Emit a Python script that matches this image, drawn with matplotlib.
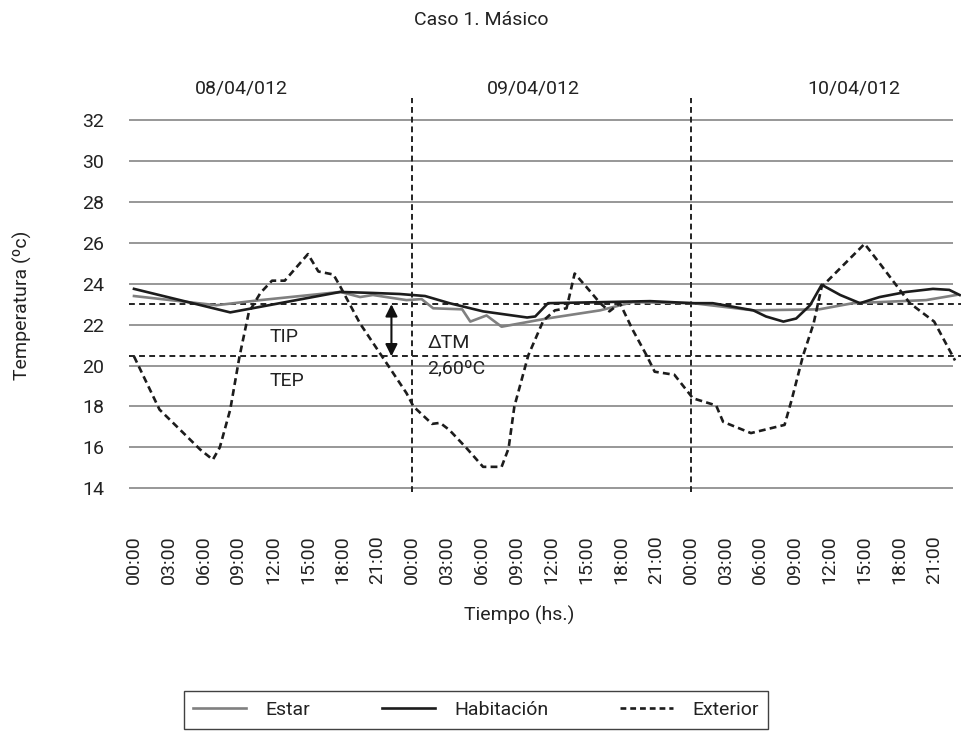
import matplotlib
matplotlib.use('Agg')
import matplotlib.pyplot as plt
from matplotlib.lines import Line2D

plt.rcParams['font.family'] = ['Roboto', 'DejaVu Sans']
plt.rcParams['text.color'] = '#222222'

#%%
# Data (hours counted from 00:00 of 08/04/012)
exterior_h = [0, 2.2, 4.0, 5.7, 6.8, 7.4, 8.3, 9.1, 9.9, 10.9, 11.9, 13.0, 15.0, 15.9,
              17.2, 17.8, 19.5, 21.8, 23.5, 24.1, 25.7, 26.4, 27.2, 28.7, 30.1, 31.7,
              32.3, 32.8, 34.0, 35.3, 36.3, 37.3, 38.0, 39.0, 40.2, 41.0, 41.9, 43.0,
              44.2, 44.9, 46.6, 48.2, 50.2, 50.8, 53.2, 56.1, 56.7, 57.7, 58.6, 59.3,
              63.0, 64.3, 66.9, 69.0, 70.8]
exterior_t = [20.45, 17.85, 16.85, 15.9, 15.4, 16.0, 17.85, 20.45, 22.6, 23.55, 24.15,
              24.15, 25.45, 24.6, 24.45, 23.85, 22.05, 20.1, 18.65, 18.0, 17.15, 17.2,
              16.85, 15.95, 15.05, 15.05, 15.95, 18.0, 20.5, 22.2, 22.7, 22.8, 24.5,
              23.85, 23.05, 22.65, 23.05, 21.75, 20.5, 19.7, 19.55, 18.4, 18.05, 17.25,
              16.7, 17.1, 18.3, 20.5, 22.05, 23.85, 25.95, 25.0, 23.05, 22.15, 20.25]

estar_h = [0, 7.1, 10.9, 17.8, 19.5, 20.6, 23.5, 24.8, 25.8, 28.3, 29.0, 30.4, 31.7,
           35.6, 40.2, 43.0, 48.2, 53.4, 59.1, 62.0, 68.3, 70.9]
estar_t = [23.4, 22.95, 23.2, 23.6, 23.35, 23.45, 23.2, 23.25, 22.8, 22.75, 22.15,
           22.45, 21.9, 22.3, 22.7, 23.1, 23.05, 22.7, 22.75, 23.05, 23.2, 23.45]

habit_h = [0, 8.3, 17.8, 20.6, 22.9, 25.1, 27.2, 30.1, 33.9, 34.6, 35.7, 40.2, 44.5,
           48.2, 49.9, 53.4, 54.5, 56.0, 57.1, 58.3, 59.3, 60.9, 62.6, 64.3, 66.6,
           68.9, 70.3, 71.2]
habit_t = [23.75, 22.6, 23.6, 23.55, 23.5, 23.4, 23.05, 22.65, 22.35, 22.4, 23.05,
           23.1, 23.15, 23.05, 23.05, 22.7, 22.4, 22.15, 22.3, 22.95, 23.95, 23.45,
           23.05, 23.35, 23.6, 23.75, 23.7, 23.45]

tip = 23.0
tep = 20.45
days = ['08/04/012', '09/04/012', '10/04/012']
hour_labels = ['00:00', '03:00', '06:00', '09:00', '12:00', '15:00', '18:00', '21:00']
y_ticks = list(range(14, 33, 2))

#%%
fig = plt.figure(figsize=(9.62, 7.34), dpi=100)
ax = fig.add_axes([129 / 962, 1 - 492 / 734, 833 / 962, 394 / 734])
ax.set_xlim(-0.43, 71.4)
ax.set_ylim(13.82, 33.08)

for s in ax.spines.values():
    s.set_visible(False)

# horizontal grid
ax.hlines(y_ticks, -0.43, 70.6, color='#7a7a7a', lw=1.1, zorder=1)
# day separators
for d in [24, 48]:
    ax.axvline(d, color='#222222', lw=1.4, ls=(0, (3, 2)), zorder=2)
# TIP / TEP
ax.axhline(tip, color='#222222', lw=1.4, ls=(0, (3, 2.2)), zorder=2)
ax.axhline(tep, color='#222222', lw=1.4, ls=(0, (3, 2.2)), zorder=2)

ax.plot(estar_h, estar_t, color='#808080', lw=1.9, zorder=3)
ax.plot(habit_h, habit_t, color='#1c1c1c', lw=1.9, zorder=4)
ax.plot(exterior_h, exterior_t, color='#1c1c1c', lw=1.9, ls=(0, (2.6, 1.6)), zorder=5)

ax.annotate('', xy=(22.2, tep), xytext=(22.2, tip),
            arrowprops=dict(arrowstyle='<|-|>', color='#111111', lw=1.5,
                            mutation_scale=18, shrinkA=0, shrinkB=0))

ax.text(11.7, 21.4, 'TIP', fontsize=14, va='center', ha='left')
ax.text(11.7, 19.27, 'TEP', fontsize=14, va='center', ha='left')
ax.text(25.3, 21.1, '\u0394TM', fontsize=14, va='center', ha='left')
ax.text(25.3, 19.88, '2,60ºC', fontsize=14, va='center', ha='left')

for x, d in zip([9.3, 34.4, 62.1], days):
    ax.text(x, 33.52, d, fontsize=14, ha='center', va='center', clip_on=False)

ax.set_xticks(range(0, 72, 3))
ax.set_xticklabels(hour_labels * 3, rotation=90, fontsize=14, color='#222222')
ax.set_yticks(y_ticks)
ax.set_yticklabels([str(v) for v in y_ticks], fontsize=14, color='#222222')
ax.tick_params(axis='x', length=0, pad=31)
ax.tick_params(axis='y', length=0, pad=18)

fig.text(481 / 962, 1 - 20 / 734, 'Caso 1. Másico', fontsize=14, ha='center', va='center')
fig.text(519 / 962, 1 - 615 / 734, 'Tiempo (hs.)', fontsize=14, ha='center', va='center')
fig.text(22 / 962, 1 - 305 / 734, 'Temperatura (ºc)', fontsize=14, ha='center',
         va='center', rotation=90)

handles = [Line2D([], [], color='#808080', lw=1.9),
           Line2D([], [], color='#1c1c1c', lw=1.9),
           Line2D([], [], color='#1c1c1c', lw=1.9, ls=(0, (2.2, 1.5)))]
leg = fig.legend(handles, ['Estar', 'Habitación', 'Exterior'], loc='center',
                 bbox_to_anchor=(476 / 962, 1 - 710 / 734), ncol=3, fontsize=14,
                 frameon=True, fancybox=False, handlelength=2.7, handletextpad=1.0,
                 columnspacing=3.7, borderpad=0.5, borderaxespad=0)
leg.get_frame().set_edgecolor('#111111')
leg.get_frame().set_linewidth(1.0)

fig.savefig('out.png', dpi=100)
